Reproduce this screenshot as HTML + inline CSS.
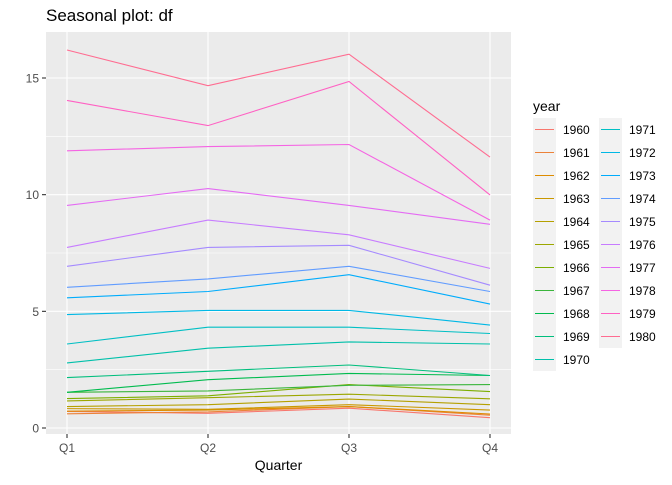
<!DOCTYPE html>
<html><head><meta charset="utf-8"><style>
body{margin:0;background:#fff;font-family:"Liberation Sans",Arial,sans-serif}
</style></head><body>
<svg id="chart" width="672" height="480" xmlns="http://www.w3.org/2000/svg" font-family="Liberation Sans, Arial, sans-serif">
<rect width="672" height="480" fill="#fff"/>
<text x="46" y="21" font-size="17" fill="#000">Seasonal plot: df</text>
<rect id="panel" x="46" y="32" width="465" height="402" fill="#ebebeb"/>
<g id="grid"></g><g id="series"></g><g id="axes"></g><g id="legend"></g>
<text x="278.5" y="470" font-size="14" text-anchor="middle" fill="#000">Quarter</text>
</svg>
<script>
const quarters=["Q1","Q2","Q3","Q4"];
const years=[1960,1961,1962,1963,1964,1965,1966,1967,1968,1969,1970,1971,1972,1973,1974,1975,1976,1977,1978,1979,1980];
const v1960=[0.71,0.63,0.85,0.44];
const v1961=[0.61,0.69,0.92,0.55];
const v1962=[0.72,0.77,0.92,0.60];
const v1963=[0.83,0.80,1.00,0.77];
const v1964=[0.92,1.00,1.24,1.00];
const v1965=[1.16,1.30,1.45,1.25];
const v1966=[1.26,1.38,1.86,1.56];
const v1967=[1.53,1.59,1.83,1.86];
const v1968=[1.53,2.07,2.34,2.25];
const v1969=[2.16,2.43,2.70,2.25];
const v1970=[2.79,3.42,3.69,3.60];
const v1971=[3.60,4.32,4.32,4.05];
const v1972=[4.86,5.04,5.04,4.41];
const v1973=[5.58,5.85,6.57,5.31];
const v1974=[6.03,6.39,6.93,5.85];
const v1975=[6.93,7.74,7.83,6.12];
const v1976=[7.74,8.91,8.28,6.84];
const v1977=[9.54,10.26,9.54,8.73];
const v1978=[11.88,12.06,12.15,8.91];
const v1979=[14.04,12.96,14.85,9.99];
const v1980=[16.20,14.67,16.02,11.61];
const seriesValues=[v1960,v1961,v1962,v1963,v1964,v1965,v1966,v1967,v1968,v1969,v1970,v1971,v1972,v1973,v1974,v1975,v1976,v1977,v1978,v1979,v1980];
const yTicks=[0,5,10,15];
const yMinor=[2.5,7.5,12.5];
const colors=["#F8766D","#EC8239","#DE8C00","#C99800","#B5A000","#9CA700","#7CAE00","#3AB53C","#00BB4E","#00BE7D","#00C0AA","#00BFC4","#00B8E5","#00ACFC","#619CFF","#A58AFF","#C77CFF","#E46BF3","#F564E3","#FF61C3","#FF6C91"];

const NS="http://www.w3.org/2000/svg";
function X(i){return 67+i*141;}
function Y(v){return 428-v*(350/15);}
function mk(t,a,p){const e=document.createElementNS(NS,t);for(const k in a)e.setAttribute(k,a[k]);p.appendChild(e);return e;}
const grid=document.getElementById('grid'),ser=document.getElementById('series'),ax=document.getElementById('axes'),lg=document.getElementById('legend');
yMinor.forEach(v=>{const l=mk('line',{x1:46,x2:511,y1:Y(v),y2:Y(v),stroke:'#fff','stroke-width':0.55},grid);

});
yTicks.forEach(v=>{const l=mk('line',{x1:46,x2:511,y1:Y(v),y2:Y(v),stroke:'#fff','stroke-width':1.1},grid);


const t=mk('line',{x1:42,x2:46,y1:Y(v),y2:Y(v),stroke:'#333','stroke-width':1.1},ax);


const tx=mk('text',{x:39,y:Y(v)+4.5,'font-size':12,'text-anchor':'end',fill:'#4d4d4d'},ax);tx.textContent=v;

});
quarters.forEach((q,i)=>{const l=mk('line',{x1:X(i),x2:X(i),y1:32,y2:434,stroke:'#fff','stroke-width':1.1},grid);


const t=mk('line',{x1:X(i),x2:X(i),y1:434,y2:438,stroke:'#333','stroke-width':1.1},ax);


const tx=mk('text',{x:X(i),y:452,'font-size':12,'text-anchor':'middle',fill:'#4d4d4d'},ax);tx.textContent=q;

});
seriesValues.forEach((vals,i)=>{const p=mk('polyline',{points:vals.map((v,j)=>X(j)+','+Y(v)).join(' '),fill:'none','stroke-width':1.1},ser);
p.style.stroke=colors[i];

});
const bg1=mk('rect',{x:533,y:118,width:23,height:253,fill:'#f2f2f2'},lg);


const bg2=mk('rect',{x:599,y:118,width:23,height:230,fill:'#f2f2f2'},lg);


const tt=mk('text',{x:533,y:111,'font-size':14,fill:'#000'},lg);tt.textContent='year';


years.forEach((y,i)=>{const c=i<11?0:1,r=i<11?i:i-11;const kx=533+c*66,cy=129.5+r*23;
const g=mk('g',{},lg);


const ln=mk('line',{x1:kx+2,x2:kx+21,y1:cy,y2:cy,'stroke-width':1.1},g);
ln.style.stroke=colors[i];
const t=mk('text',{x:kx+30,y:cy+4.5,'font-size':12,fill:'#000'},g);t.textContent=y;});
</script>
</body></html>
